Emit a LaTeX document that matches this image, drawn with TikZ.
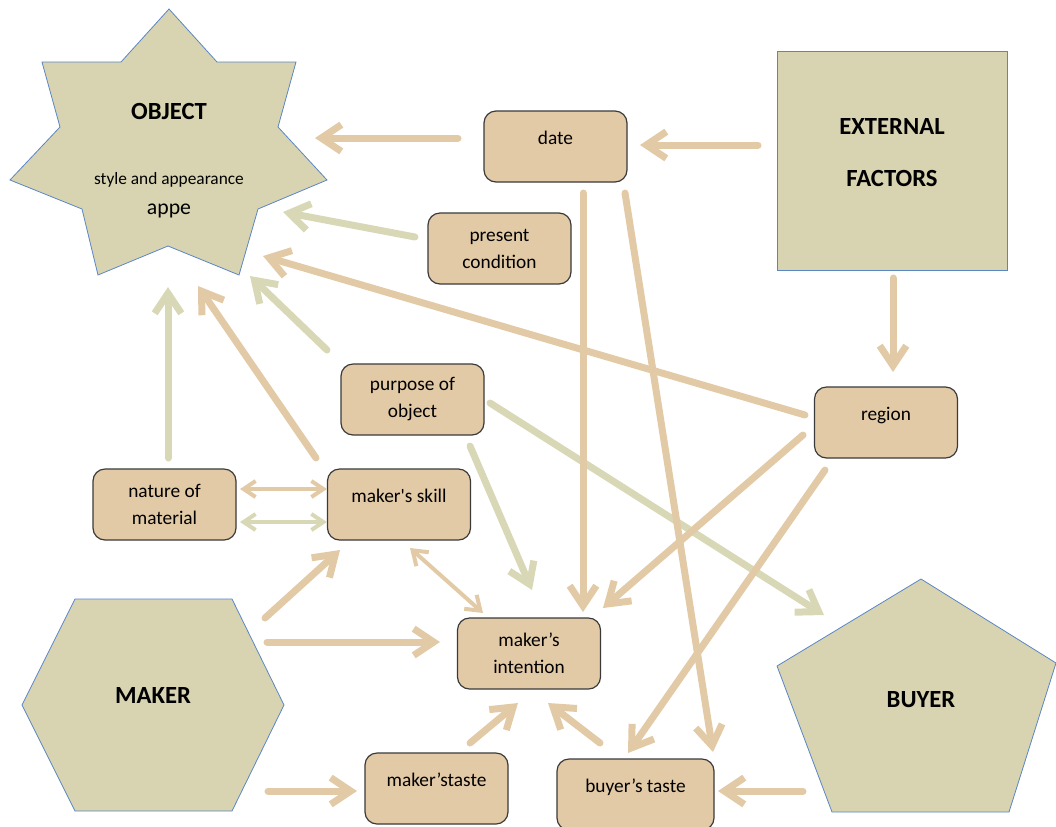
\documentclass[tikz,border=0pt]{standalone}
\usepackage{fontspec}
\setmainfont{Carlito}
\usetikzlibrary{arrows.meta,positioning}

\definecolor{tanc}{HTML}{E3CAA6}
\definecolor{greenc}{HTML}{D9D8B6}
\definecolor{shapefill}{HTML}{D8D4B1}
\definecolor{shapeline}{HTML}{5A86C5}
\definecolor{boxline}{HTML}{3A3A3A}

\tikzset{
  box/.style={draw=boxline, fill=tanc, rounded corners=9pt, line width=0.9pt,
    minimum width=107.25pt, minimum height=53.25pt, align=center,
    font=\fontsize{14.5}{20.25}\selectfont},
  shapebg/.style={draw=shapeline, fill=shapefill, line width=0.6pt},
  bigtext/.style={font=\fontsize{18.5}{39}\selectfont\bfseries, align=center},
  tanarr/.style={draw=tanc, line width=5.25pt, line cap=round,
    -{Straight Barb[length=15pt,width=20pt]}},
  greenarr/.style={tanarr, draw=greenc},
  thinarr/.style={draw=tanc, line width=3pt, line cap=round,
    {Straight Barb[length=9pt,width=12pt]}-{Straight Barb[length=9pt,width=12pt]}},
}

\newcommand{\oneline}[1]{\raisebox{12.75pt}{#1}}

\begin{document}
\begin{tikzpicture}[x=0.75pt,y=-0.75pt]
\useasboundingbox (0,0) rectangle (1056,826);

% the three drawn shapes
\draw[shapebg] (169,9) -- (217,62) -- (296,62) -- (278,127) -- (327,180)
  -- (258,209) -- (239,275) -- (168,246) -- (98,275) -- (82,209)
  -- (10,180) -- (60,127) -- (42,62) -- (121,62) -- cycle;
\draw[shapebg] (22,705) -- (75,599) -- (232,599) -- (284,705) -- (232,811)
  -- (75,811) -- cycle;
\draw[shapebg] (921,579) -- (1056,663) -- (1009,812) -- (832,812) -- (777,666)
  -- cycle;

\node[bigtext] (object) at (169,111) {OBJECT};
\node[font=\fontsize{13}{15}\selectfont] (style) at (169,180) {style and appearance};
\node[font=\fontsize{16.3}{18}\selectfont] (appe) at (169,211) {appe};
\node[bigtext] (maker) at (153,695) {MAKER};
\node[bigtext] (buyer) at (921,700) {BUYER};
\node[shapebg, minimum width=172.5pt, minimum height=164.25pt]
  (external) at (892,160.5) {};
\node[bigtext] (exttext) at (892,153) {EXTERNAL\\FACTORS};

% boxes
\node[box] (date) at (555.5,146.5) {\oneline{date}};
\node[box] (present) at (499.5,248.5) {present\\condition};
\node[box] (purpose) at (412.5,399.5) {purpose of\\object};
\node[box] (nature) at (164.5,504.5) {nature of\\material};
\node[box] (skill) at (399,504.5) {\oneline{maker\textquotesingle s skill}};
\node[box] (intention) at (529,653.5) {maker’s\\intention};
\node[box] (mtaste) at (436.5,788.5) {\oneline{maker’staste}};
\node[box, minimum width=117.75pt] (btaste) at (635.5,794.5) {\oneline{buyer’s taste}};
\node[box] (region) at (886,422.5) {\oneline{region}};

% arrow ends
\coordinate (date-obj) at (458,138);   \coordinate (obj-date) at (315,138);
\coordinate (ext-date) at (758,145);   \coordinate (date-ext) at (640,145);
\coordinate (pres-obj) at (415,237);   \coordinate (obj-pres) at (283,212);
\coordinate (reg-obj) at (805,415);    \coordinate (obj-reg) at (263,256);
\coordinate (purp-obj) at (327,350);   \coordinate (obj-purp) at (250,276);
\coordinate (skill-obj) at (316,458);  \coordinate (obj-skill) at (198,286);
\coordinate (nat-obj) at (168,458);    \coordinate (obj-nat) at (168,287);
\coordinate (nat-skill1) at (240,489); \coordinate (skill-nat1) at (327,489);
\coordinate (nat-skill2) at (240,522); \coordinate (skill-nat2) at (327,522);
\coordinate (purp-buy) at (490,403);   \coordinate (buy-purp) at (824,615);
\coordinate (purp-int) at (470,446);   \coordinate (int-purp) at (532,590);
\coordinate (date-int) at (583,193);   \coordinate (int-date) at (583,612);
\coordinate (date-bt) at (625,193);    \coordinate (bt-date) at (713,752);
\coordinate (ext-reg) at (893,278);    \coordinate (reg-ext) at (893,372);
\coordinate (reg-int) at (803,435);    \coordinate (int-reg) at (603,608);
\coordinate (reg-bt) at (825,470);     \coordinate (bt-reg) at (628,753);
\coordinate (skill-int) at (410,548);  \coordinate (int-skill) at (483,613);
\coordinate (mak-skill) at (265,618);  \coordinate (skill-mak) at (340,550);
\coordinate (mak-int) at (267,642);    \coordinate (int-mak) at (440,642);
\coordinate (mak-mt) at (268,791);     \coordinate (mt-mak) at (357,791);
\coordinate (mt-int) at (470,743);     \coordinate (int-mt) at (518,703);
\coordinate (bt-int) at (600,743);     \coordinate (int-bt) at (548,703);
\coordinate (buy-bt) at (803,791);     \coordinate (bt-buy) at (718,791);

% connectors
\draw[tanarr] (date-obj) -- (obj-date);
\draw[tanarr] (ext-date) -- (date-ext);
\draw[greenarr] (pres-obj) -- (obj-pres);
\draw[tanarr] (reg-obj) -- (obj-reg);
\draw[greenarr] (purp-obj) -- (obj-purp);
\draw[tanarr] (skill-obj) -- (obj-skill);
\draw[greenarr] (nat-obj) -- (obj-nat);
\draw[thinarr] (nat-skill1) -- (skill-nat1);
\draw[thinarr, draw=greenc] (nat-skill2) -- (skill-nat2);
\draw[greenarr] (purp-buy) -- (buy-purp);
\draw[greenarr] (purp-int) -- (int-purp);
\draw[tanarr] (date-int) -- (int-date);
\draw[tanarr] (date-bt) -- (bt-date);
\draw[tanarr] (ext-reg) -- (reg-ext);
\draw[tanarr] (reg-int) -- (int-reg);
\draw[tanarr] (reg-bt) -- (bt-reg);
\draw[thinarr, {Straight Barb[length=10pt,width=14pt]}-{Straight Barb[length=10pt,width=14pt]}]
  (skill-int) -- (int-skill);
\draw[tanarr] (mak-skill) -- (skill-mak);
\draw[tanarr] (mak-int) -- (int-mak);
\draw[tanarr] (mak-mt) -- (mt-mak);
\draw[tanarr] (mt-int) -- (int-mt);
\draw[tanarr] (bt-int) -- (int-bt);
\draw[tanarr] (buy-bt) -- (bt-buy);
\end{tikzpicture}
\end{document}
